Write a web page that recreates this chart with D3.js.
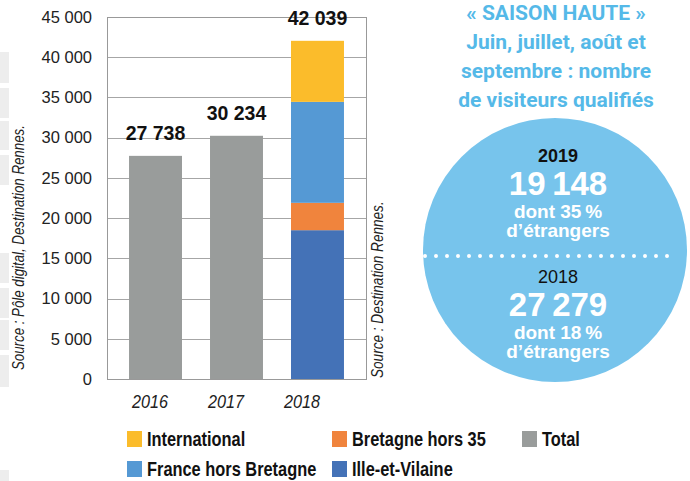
<!DOCTYPE html>
<html>
<head>
<meta charset="utf-8">
<script src="https://cdn.jsdelivr.net/npm/d3@7"></script>
<style>
  body { margin: 0; background: #fff; }
</style>
</head>
<body>
<div id="chart"></div>
<script>
// --- data ---
const years = ['2016', '2017', '2018'];
const totals = [27738, 30234, 42039];
const segKeys = ['Ille-et-Vilaine', 'Bretagne hors 35', 'France hors Bretagne', 'International'];
const segValues2018 = [18500, 3400, 12550, 7589];
const yTicks = [0, 5000, 10000, 15000, 20000, 25000, 30000, 35000, 40000, 45000];
const legendRow1 = ['International', 'Bretagne hors 35', 'Total'];
const legendRow2 = ['France hors Bretagne', 'Ille-et-Vilaine'];
const titleLines = ['« SAISON HAUTE »', 'Juin, juillet, août et', 'septembre : nombre', 'de visiteurs qualifiés'];
const statYears = ['2019', '2018'];
const statVisitors = ['19\u2009148', '27\u2009279'];
const statShares = [35, 18];

const colors = {
    'International': '#fbbc2b',
    'Bretagne hors 35': '#f0843d',
    'France hors Bretagne': '#5599d4',
    'Ille-et-Vilaine': '#4472b7',
    'Total': '#999c9b'
};

const fr = d3.formatLocale({ decimal: ',', thousands: ' ', grouping: [3], currency: ['', ' €'] });
const fmt = fr.format(',d');

const W = 690, H = 481;
const svg = d3.select('#chart')
    .append('svg')
    .attr('width', W)
    .attr('height', H)
    .style('font-family', "'Liberation Sans', Arial, sans-serif");

// faint page strips on the left edge (from the scanned page)
const strips = [[52, 83], [88, 118], [121, 150], [155, 185], [253, 283], [288, 318], [320, 350], [355, 387], [470, 481]];
svg.append('g')
    .selectAll('rect')
    .data(strips)
    .enter()
    .append('rect')
    .attr('x', 0)
    .attr('y', d => d[0])
    .attr('width', 9)
    .attr('height', d => d[1] - d[0])
    .attr('fill', '#ededed');

// --- bar chart ---
const plot = { left: 107, right: 366, top: 17, bottom: 379 };

const x = d3.scaleBand()
    .domain(years)
    .range([plot.left, plot.right])
    .paddingInner(0.346)
    .paddingOuter(0.272);

const y = d3.scaleLinear()
    .domain([0, 45000])
    .range([plot.bottom, plot.top]);

// rows for the stack: 2016/2017 only have the grey total
const rows = years.map((yr, i) => {
    const row = { year: yr, Total: 0 };
    segKeys.forEach((k, j) => row[k] = (yr === '2018') ? segValues2018[j] : 0);
    if (yr !== '2018') row.Total = totals[i];
    return row;
});
const stacked = d3.stack().keys(segKeys.concat(['Total']))(rows);

const grid = svg.append('g');
grid.selectAll('line')
    .data(yTicks)
    .enter()
    .append('line')
    .attr('x1', plot.left)
    .attr('x2', plot.right)
    .attr('y1', d => Math.round(y(d)) + 0.5)
    .attr('y2', d => Math.round(y(d)) + 0.5)
    .attr('stroke', '#a6a6a6')
    .attr('stroke-width', 1);

svg.append('g')
    .selectAll('g')
    .data(stacked)
    .enter()
    .append('g')
    .attr('fill', d => colors[d.key])
    .selectAll('rect')
    .data(d => d)
    .enter()
    .append('rect')
    .attr('x', d => x(d.data.year))
    .attr('width', x.bandwidth())
    .attr('y', d => y(d[1]))
    .attr('height', d => y(d[0]) - y(d[1]));

// frame
svg.append('rect')
    .attr('x', plot.left + 0.5)
    .attr('y', plot.top + 0.5)
    .attr('width', plot.right - plot.left)
    .attr('height', plot.bottom - plot.top)
    .attr('fill', 'none')
    .attr('stroke', '#999')
    .attr('stroke-width', 1);

// y axis labels
const yAxis = svg.append('g')
    .attr('transform', `translate(${plot.left},0)`)
    .call(d3.axisLeft(y).tickValues(yTicks).tickSize(0).tickPadding(15).tickFormat(fmt));
yAxis.select('.domain').remove();
yAxis.selectAll('text')
    .attr('font-family', "'Liberation Sans', Arial, sans-serif")
    .attr('font-size', 16.5)
    .attr('fill', '#222');

// total labels above bars
svg.append('g')
    .selectAll('text')
    .data(years)
    .enter()
    .append('text')
    .attr('x', d => x(d) + x.bandwidth() / 2)
    .attr('y', (d, i) => y(totals[i]) - 16)
    .attr('text-anchor', 'middle')
    .attr('font-size', 19.5)
    .attr('font-weight', 'bold')
    .attr('fill', '#111')
    .text((d, i) => fmt(totals[i]));

// year labels (slightly tighter than the bars in the original)
const xLab = d3.scalePoint()
    .domain(years)
    .range([plot.left + 43, plot.left + 195]);
svg.append('g')
    .selectAll('text')
    .data(years)
    .enter()
    .append('text')
    .attr('transform', d => `translate(${xLab(d)},408) scale(0.9,1)`)
    .attr('text-anchor', 'middle')
    .attr('font-size', 18)
    .attr('font-style', 'italic')
    .attr('fill', '#222')
    .text(d => d);

// sources, rotated (condensed look)
svg.append('text')
    .attr('transform', 'translate(24,370) rotate(-90) scale(0.83,1)')
    .attr('font-size', 16)
    .attr('font-style', 'italic')
    .attr('fill', '#222')
    .text('Source : Pôle digital, Destination Rennes.');

svg.append('text')
    .attr('transform', 'translate(383,378) rotate(-90) scale(0.85,1)')
    .attr('font-size', 16)
    .attr('font-style', 'italic')
    .attr('fill', '#222')
    .text('Source : Destination Rennes.');

// legend
const legCols = [127, 332, 522];
const legRows = [431, 461];
const legendData = legendRow1.map((k, i) => ({ k, col: i, row: 0 }))
    .concat(legendRow2.map((k, i) => ({ k, col: i, row: 1 })));
const leg = svg.append('g')
    .selectAll('g')
    .data(legendData)
    .enter()
    .append('g')
    .attr('transform', d => `translate(${legCols[d.col]},${legRows[d.row]})`);
leg.append('rect')
    .attr('width', 15)
    .attr('height', 16)
    .attr('fill', d => colors[d.k]);
leg.append('text')
    .attr('transform', 'translate(20,15) scale(0.82,1)')
    .attr('font-size', 20)
    .attr('font-weight', 'bold')
    .attr('fill', '#111')
    .text(d => d.k);

// --- right panel ---
const cx = 555, cy = 250, r = 132;
svg.append('g')
    .selectAll('text')
    .data(titleLines)
    .enter()
    .append('text')
    .attr('x', cx + 1)
    .attr('y', (d, i) => 20 + i * 29)
    .attr('text-anchor', 'middle')
    .attr('font-family', "Roboto, 'Open Sans', sans-serif")
    .attr('font-size', 21)
    .attr('font-weight', 'bold')
    .attr('fill', '#55b9e8')
    .text(d => d);

svg.append('circle')
    .attr('cx', cx)
    .attr('cy', cy)
    .attr('r', r)
    .attr('fill', '#77c4ec');

svg.append('line')
    .attr('x1', cx - r + 2)
    .attr('x2', cx + r - 10)
    .attr('y1', 256)
    .attr('y2', 256)
    .attr('stroke', '#fff')
    .attr('stroke-width', 4)
    .attr('stroke-linecap', 'round')
    .attr('stroke-dasharray', '0 11');

// each stat block is one text with stacked lines
const statBase = [162, 283];
const stats = svg.append('g')
    .selectAll('text')
    .data(statYears)
    .enter()
    .append('text')
    .attr('transform', (d, i) => `translate(${cx + 3},${statBase[i]})`)
    .attr('text-anchor', 'middle')
    .attr('font-weight', 'bold');
stats.append('tspan')
    .attr('x', 0)
    .attr('font-size', 18)
    .attr('font-weight', (d, i) => i === 0 ? 'bold' : 'normal')
    .attr('fill', '#111')
    .text(d => d);
stats.append('tspan')
    .attr('x', 0)
    .attr('dy', 33)
    .attr('font-size', 33)
    .attr('fill', '#fff')
    .text((d, i) => statVisitors[i]);
stats.append('tspan')
    .attr('x', 0)
    .attr('dy', 22.5)
    .attr('font-size', 19)
    .attr('fill', '#fff')
    .text((d, i) => 'dont ' + statShares[i] + '\u2009%');
stats.append('tspan')
    .attr('x', 0)
    .attr('dy', 19.5)
    .attr('font-size', 19)
    .attr('fill', '#fff')
    .text('d’étrangers');
</script>
</body>
</html>
